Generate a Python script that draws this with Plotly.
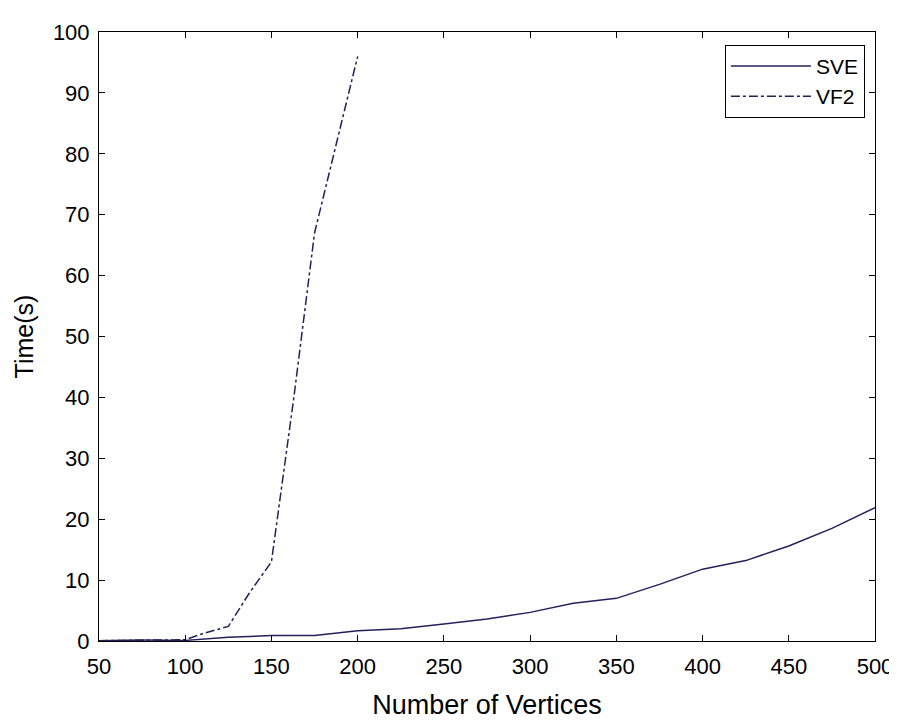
import plotly.graph_objects as go

# Data
sve_x = [50, 75, 100, 125, 150, 175, 200, 225, 250, 275, 300, 325, 350, 375, 400, 425, 450, 475, 500]
sve_y = [0.05, 0.15, 0.1, 0.6, 0.9, 0.9, 1.7, 2.0, 2.8, 3.6, 4.7, 6.2, 7.0, 9.3, 11.8, 13.2, 15.6, 18.5, 21.9]

vf2_x = [50, 75, 100, 110, 125, 137, 150, 163, 175, 200]
vf2_y = [0.05, 0.1, 0.2, 1.2, 2.4, 7.8, 13.0, 40.0, 67.0, 96.0]

x_ticks = [50, 100, 150, 200, 250, 300, 350, 400, 450, 500]
y_ticks = [0, 10, 20, 30, 40, 50, 60, 70, 80, 90, 100]

line_color = "#22225a"
font_family = "Liberation Sans, Arial, sans-serif"

fig = go.Figure()
fig.add_trace(go.Scatter(x=sve_x, y=sve_y, mode="lines", name="SVE",
                         line=dict(color=line_color, width=1.5, dash="solid")))
fig.add_trace(go.Scatter(x=vf2_x, y=vf2_y, mode="lines", name="VF2",
                         line=dict(color=line_color, width=1.5, dash="dashdot")))

axis_common = dict(
    showline=True, linecolor="black", linewidth=1, mirror="allticks",
    ticks="inside", ticklen=6, tickcolor="black", tickwidth=1,
    showgrid=False, zeroline=False,
    tickfont=dict(family=font_family, size=22, color="black"),
)

fig.update_xaxes(range=[50, 500], tickvals=x_ticks, ticktext=[str(v) for v in x_ticks],
                 ticklabelstandoff=6,
                 title=dict(text="Number of Vertices", font=dict(family=font_family, size=27, color="black"), standoff=16),
                 **axis_common)
fig.update_yaxes(range=[0, 100], tickvals=y_ticks, ticktext=[str(v) for v in y_ticks],
                 ticklabelstandoff=4,
                 title=dict(text="Time(s)", font=dict(family=font_family, size=25, color="black"), standoff=12),
                 **axis_common)

fig.update_layout(
    width=897, height=724,
    margin=dict(l=91, r=25, t=18, b=91),
    paper_bgcolor="white", plot_bgcolor="white",
    showlegend=True,
    legend=dict(x=0.987, y=0.979, xanchor="right", yanchor="top",
                bgcolor="white", bordercolor="black", borderwidth=1,
                font=dict(family=font_family, size=21, color="black"),
                itemwidth=80, tracegroupgap=0),
)

fig.write_html("out.html")
